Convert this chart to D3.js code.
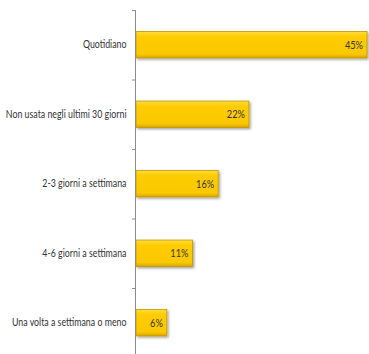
<!DOCTYPE html>
<html><head><meta charset="utf-8">
<script src="https://cdn.jsdelivr.net/npm/d3@7/dist/d3.min.js"></script>
<style>
html,body{margin:0;padding:0;background:#fff;}
svg{display:block;}
text{font-family:Lato,"DejaVu Sans Condensed",sans-serif;}
</style></head>
<body>
<svg id="chart" width="369" height="354"></svg>
<script>
const categories = ["Quotidiano","Non usata negli ultimi 30 giorni","2-3 giorni a settimana","4-6 giorni a settimana","Una volta a settimana o meno"];
const values = [45, 22, 16, 11, 6];
const valueLabels = ["45%","22%","16%","11%","6%"];

const svg = d3.select("#chart");
const defs = svg.append("defs");
const grad = defs.append("linearGradient").attr("id","barGrad").attr("x1",0).attr("y1",0).attr("x2",0).attr("y2",1);
grad.append("stop").attr("offset","0%").attr("stop-color","#ffdc40");
grad.append("stop").attr("offset","20%").attr("stop-color","#ffcc00");
grad.append("stop").attr("offset","85%").attr("stop-color","#fac800");
grad.append("stop").attr("offset","100%").attr("stop-color","#d9a500");
const f = defs.append("filter").attr("id","shadow").attr("x","-10%").attr("y","-20%").attr("width","130%").attr("height","160%");
f.append("feDropShadow").attr("dx",1.5).attr("dy",1.5).attr("stdDeviation",1).attr("flood-color","#000").attr("flood-opacity",0.35);

const y = d3.scaleBand().domain(categories).range([10, 357.5]).paddingInner(0.62).paddingOuter(0.31);
const x = d3.scaleLinear().domain([0,45]).range([136,367]);

svg.selectAll("rect.bar").data(values).join("rect")
  .attr("class","bar")
  .attr("x", x(0))
  .attr("y", (d,i)=>y(categories[i]))
  .attr("width", d=>x(d)-x(0))
  .attr("height", y.bandwidth())
  .attr("fill","url(#barGrad)")
  .attr("stroke","#c39500")
  .attr("stroke-width",0.8)
  .attr("filter","url(#shadow)");

const sx = 0.84;
svg.selectAll("text.val").data(values).join("text")
  .attr("class","val")
  .attr("transform","scale(" + sx + ",1)")
  .attr("x", d=>(x(d)-4)/sx)
  .attr("y", (d,i)=>y(categories[i])+y.bandwidth()/2)
  .attr("dy","0.35em")
  .attr("text-anchor","end")
  .attr("font-size","11px")
  .attr("fill","#333")
  .text((d,i)=>valueLabels[i]);

const axis = d3.axisLeft(y).tickSize(0).tickPadding(9);
const g = svg.append("g").attr("transform",`translate(${x(0)-0.5},0)`).call(axis);
g.select(".domain").remove();
g.selectAll("text").attr("font-size","10.5px").attr("fill","#333").style("font-family",'Lato,sans-serif')
  .attr("transform","scale(" + sx + ",1)").attr("x", -9/sx);
svg.append("line").attr("x1",x(0)-0.5).attr("x2",x(0)-0.5).attr("y1",y.range()[0]).attr("y2",354)
  .attr("stroke","#8c8c8c").attr("stroke-width",1);
const step = y.step();
const bounds = d3.range(categories.length).map(i=>y.range()[0]+i*step);
svg.selectAll("line.tk").data(bounds).join("line").attr("class","tk")
  .attr("x1",x(0)-4).attr("x2",x(0)-0.5).attr("y1",d=>d+0.5).attr("y2",d=>d+0.5)
  .attr("stroke","#8c8c8c").attr("stroke-width",1);
</script>
</body></html>
